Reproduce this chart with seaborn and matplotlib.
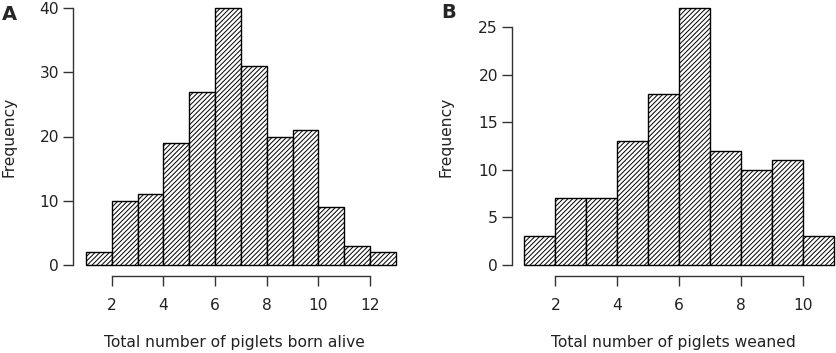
import numpy as np
import pandas as pd
import matplotlib
matplotlib.use('Agg')
import matplotlib.pyplot as plt
import seaborn as sns

# Datos (frecuencias por intervalo de ancho 1)
born_edges = [1, 2, 3, 4, 5, 6, 7, 8, 9, 10, 11, 12, 13]
born_counts = [2, 10, 11, 19, 27, 40, 31, 20, 21, 9, 3, 2]
weaned_edges = [1, 2, 3, 4, 5, 6, 7, 8, 9, 10, 11]
weaned_counts = [3, 7, 7, 13, 18, 27, 12, 10, 11, 3]

sns.set_style('white')
plt.rcParams['font.family'] = ['DejaVu Sans']
plt.rcParams['hatch.linewidth'] = 0.7

fig = plt.figure(figsize=(8.37, 3.53), dpi=100)
W, H = 837, 353
FS = 11.2


def make_ax(left, right, top, bottom):
    return fig.add_axes([left / W, 1 - bottom / H, (right - left) / W, (bottom - top) / H])


def draw_hist(ax, edges, counts, xlim, ylim, ybound, yticks, xticks, xlabel):
    centers = (np.array(edges[:-1]) + np.array(edges[1:])) / 2
    df = pd.DataFrame({'x': centers, 'n': counts})
    sns.histplot(data=df, x='x', weights='n', bins=edges, ax=ax,
                 color='white', edgecolor='black', linewidth=1.0, alpha=1)
    for p in ax.patches:
        p.set_hatch('///////')
        p.set_clip_on(False)
    ax.set_xlim(*xlim)
    ax.set_ylim(*ylim)
    for s in ['top', 'right']:
        ax.spines[s].set_visible(False)
    ax.spines['left'].set_bounds(*ybound)
    ax.spines['bottom'].set_bounds(xticks[0], xticks[-1])
    ax.spines['bottom'].set_position(('outward', 8))
    for s in ['left', 'bottom']:
        ax.spines[s].set_linewidth(1.0)
        ax.spines[s].set_color('#333333')
    ax.set_yticks(yticks)
    ax.set_xticks(xticks)
    ax.tick_params(direction='out', length=7, width=1.0, color='#333333',
                   labelsize=FS, pad=3, left=True, bottom=True, labelcolor='#222222')
    ax.tick_params(axis='x', pad=9)
    ax.set_ylabel('Frequency', fontsize=FS, color='#222222')
    ax.set_xlabel(xlabel, fontsize=FS, labelpad=15.5, color='#222222')


axA = make_ax(73, 396, 8, 265)
draw_hist(axA, born_edges, born_counts, (0.5, 13), (0, 40), (0, 40),
          [0, 10, 20, 30, 40], [2, 4, 6, 8, 10, 12],
          'Total number of piglets born alive')
axA.yaxis.set_label_coords(-56 / 323, 0.5)

axB = make_ax(512, 834, 8, 265)
draw_hist(axB, weaned_edges, weaned_counts, (0.6, 11), (0, 27), (0, 25),
          [0, 5, 10, 15, 20, 25], [2, 4, 6, 8, 10],
          'Total number of piglets weaned')
axB.yaxis.set_label_coords(-58 / 322, 0.5)

fig.text(2 / W, 1 - 14 / H, 'A', fontsize=14, fontweight='bold', va='center', ha='left')
fig.text(441 / W, 1 - 12 / H, 'B', fontsize=14, fontweight='bold', va='center', ha='left')

fig.savefig('out.png', dpi=100)
